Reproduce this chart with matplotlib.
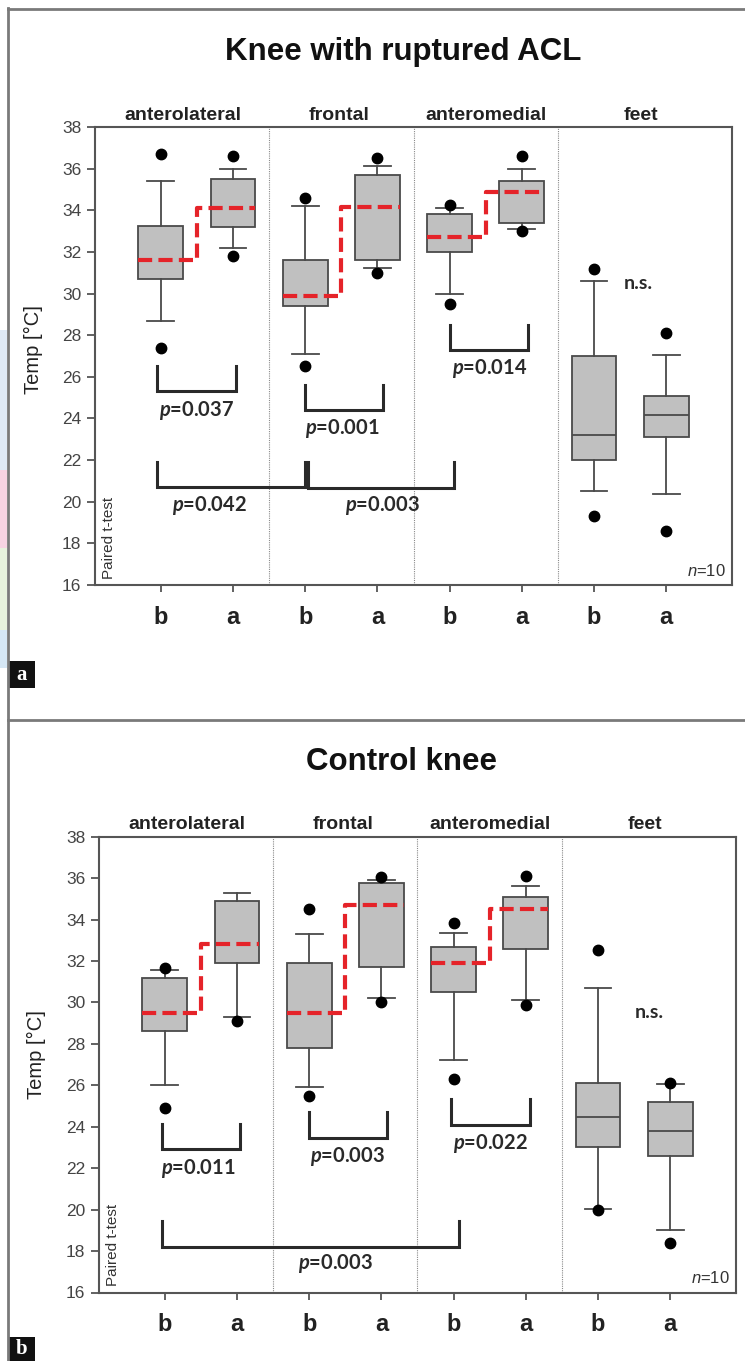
import matplotlib

matplotlib.use("Agg")
import matplotlib.pyplot as plt
from matplotlib.lines import Line2D
from matplotlib.patches import Rectangle
from matplotlib.transforms import blended_transform_factory

W, H = 745, 1361

plt.rcParams["font.family"] = ["Liberation Sans", "DejaVu Sans"]
plt.rcParams["mathtext.fontset"] = "custom"
plt.rcParams["mathtext.it"] = "Lato:italic:bold"
plt.rcParams["mathtext.rm"] = "Lato:bold"
plt.rcParams["mathtext.sf"] = "Liberation Sans:italic"

groups = ["anterolateral", "frontal", "anteromedial", "feet"]
group_x = [1.3, 3.47, 5.51, 7.65]
tick_labels = ["b", "a"] * 4
positions = [1, 2, 3, 4, 5, 6, 7, 8]
dividers = [2.5, 4.5, 6.5]
yticks = list(range(16, 39, 2))

# knee with ruptured ACL, b/a per region
acl_whislo = [28.7, 32.2, 27.1, 31.25, 30.0, 33.1, 20.5, 20.35]
acl_q1 = [30.7, 33.2, 29.4, 31.6, 32.0, 33.4, 22.0, 23.1]
acl_med = [31.6, 34.1, 29.9, 34.15, 32.7, 34.9, 23.2, 24.15]
acl_q3 = [33.25, 35.5, 31.6, 35.7, 33.8, 35.4, 27.0, 25.1]
acl_whishi = [35.4, 36.0, 34.2, 36.15, 34.1, 36.0, 30.6, 27.05]
acl_fliers = [[36.7, 27.4], [36.6, 31.8], [34.6, 26.5], [36.5, 31.0],
              [34.25, 29.5], [36.6, 33.0], [31.2, 19.3], [28.1, 18.6]]
# (x0, x1, top, bottom, label, label_x, label_y)
acl_brackets = [
    (0.95, 2.04, 26.5, 25.3, "0.037", 1.5, 24.4),
    (3.0, 4.08, 25.6, 24.4, "0.001", 3.51, 23.5),
    (5.0, 6.08, 28.5, 27.3, "0.014", 5.56, 26.4),
    (0.95, 3.0, 21.9, 20.7, "0.042", 1.67, 19.8),
    (3.04, 5.06, 21.9, 20.65, "0.003", 4.07, 19.8),
]
acl_ns = (7.61, 30.5)

# control knee
ctrl_whislo = [26.0, 29.3, 25.9, 30.2, 27.2, 30.1, 20.05, 19.0]
ctrl_q1 = [28.6, 31.9, 27.8, 31.7, 30.5, 32.6, 23.0, 22.6]
ctrl_med = [29.5, 32.8, 29.5, 34.7, 31.9, 34.5, 24.45, 23.8]
ctrl_q3 = [31.2, 34.9, 31.9, 35.75, 32.7, 35.1, 26.1, 25.2]
ctrl_whishi = [31.55, 35.3, 33.3, 35.9, 33.35, 35.6, 30.7, 26.05]
ctrl_fliers = [[31.65, 24.9], [29.1], [34.5, 25.5], [36.05, 30.0],
               [33.85, 26.3], [36.1, 29.9], [32.55, 20.0], [26.1, 18.4]]
ctrl_brackets = [
    (0.96, 2.04, 24.15, 22.95, "0.011", 1.46, 22.0),
    (3.0, 4.08, 24.7, 23.45, "0.003", 3.53, 22.55),
    (4.97, 6.06, 25.35, 24.1, "0.022", 5.51, 23.2),
    (0.96, 5.07, 19.45, 18.2, "0.003", 3.37, 17.4),
]
ctrl_ns = (7.71, 29.5)

EDGE = "#4a4a4a"
RED = "#e52329"


def fig_xy(x, y):
    return x / W, 1 - y / H


def draw_panel(ax, whislo, q1, med, q3, whishi, fliers, brackets, ns):
    stats = []
    for i in range(len(positions)):
        stats.append(dict(whislo=whislo[i], q1=q1[i], med=med[i], q3=q3[i],
                          whishi=whishi[i], fliers=fliers[i]))
    out = ax.bxp(
        stats, positions=positions, widths=0.62, capwidths=0.37,
        patch_artist=True, showfliers=True,
        boxprops=dict(facecolor="#c0c0c0", edgecolor=EDGE, linewidth=1.3),
        whiskerprops=dict(color=EDGE, linewidth=1.3),
        capprops=dict(color=EDGE, linewidth=1.3),
        medianprops=dict(color=EDGE, linewidth=1.3),
        flierprops=dict(marker="o", markerfacecolor="black",
                        markeredgecolor="black", markersize=7.5),
    )
    # knee regions: median shown as red dashed step b -> a
    for i in range(0, 6, 2):
        out["medians"][i].set_visible(False)
        out["medians"][i + 1].set_visible(False)
        pb, pa = positions[i], positions[i + 1]
        mid = (pb + pa) / 2
        ax.plot([pb - 0.31, mid, mid, pa + 0.31],
                [med[i], med[i], med[i + 1], med[i + 1]],
                color=RED, lw=3, dashes=(3.4, 1.5), zorder=5,
                solid_capstyle="butt", dash_capstyle="butt")

    for d in dividers:
        ax.axvline(d, color="#8a8a8a", lw=0.8, ls=(0, (1, 1)), zorder=0)

    for x0, x1, top, bot, lab, lx, ly in brackets:
        ax.plot([x0, x0, x1, x1], [top, bot, bot, top], color="#2a2a2a",
                lw=2.2, solid_joinstyle="miter", zorder=4)
        ax.text(lx, ly, r"$p$=" + lab, ha="center", va="center",
                fontsize=14.5, color="#2a2a2a", fontweight="bold",
                family="Lato")

    ax.text(ns[0], ns[1], "n.s.", ha="center", va="center", fontsize=14,
            color="#2a2a2a", fontweight="bold", family="Lato")

    ax.text(0.29, 16.3, "Paired t-test", rotation=90, ha="center",
            va="bottom", fontsize=11, color="#333333")
    ax.text(8.82, 16.3, r"$\mathsf{n}$=10", ha="right", va="bottom",
            fontsize=12, color="#333333")

    ax.set_xlim(0.09, 8.91)
    ax.set_ylim(16, 38)
    ax.set_yticks(yticks)
    ax.set_yticklabels([str(t) for t in yticks], fontsize=12.5,
                       color="#444444")
    ax.set_xticks(positions)
    ax.set_xticklabels(tick_labels, fontsize=17, fontweight="bold",
                       color="#222222")
    ax.tick_params(axis="y", direction="out", length=6, width=1.3,
                   color="#555555", pad=4)
    ax.tick_params(axis="x", direction="out", length=5, width=1.3,
                   color="#555555", pad=10)
    for sp in ax.spines.values():
        sp.set_color("#555555")
        sp.set_linewidth(1.5)

    trans = blended_transform_factory(ax.transData, ax.transAxes)
    for g, gx in zip(groups, group_x):
        ax.text(gx, 1.016, g, transform=trans, ha="center", va="baseline",
                fontsize=14, fontweight="bold", color="#222222")


fig = plt.figure(figsize=(W / 100, H / 100), dpi=100)

ax_top = fig.add_axes([95 / W, 1 - 585 / H, 637 / W, 458 / H])
draw_panel(ax_top, acl_whislo, acl_q1, acl_med, acl_q3, acl_whishi,
           acl_fliers, acl_brackets, acl_ns)

ax_bot = fig.add_axes([99 / W, 1 - 1292.5 / H, 637 / W, 455.8 / H])
draw_panel(ax_bot, ctrl_whislo, ctrl_q1, ctrl_med, ctrl_q3, ctrl_whishi,
           ctrl_fliers, ctrl_brackets, ctrl_ns)

# titles and y labels
fig.text(*fig_xy(403, 52), "Knee with ruptured ACL", ha="center",
         va="center", fontsize=22.5, fontweight="bold", color="#111111")
fig.text(*fig_xy(401, 762), "Control knee", ha="center", va="center",
         fontsize=22.5, fontweight="bold", color="#111111")
fig.text(*fig_xy(33, 350), "Temp [°C]", rotation=90, ha="center",
         va="center", fontsize=14.5, color="#222222")
fig.text(*fig_xy(36, 1055), "Temp [°C]", rotation=90, ha="center",
         va="center", fontsize=14.5, color="#222222")

# page frame
frame = dict(color="#7a7a7a", lw=2, transform=fig.transFigure)
fig.add_artist(Line2D([8 / W, 8 / W], [0, 1 - 8 / H], **frame))
fig.add_artist(Line2D([8 / W, 1], [1 - 9 / H, 1 - 9 / H], **frame))
fig.add_artist(Line2D([8 / W, 1], [1 - 720 / H, 1 - 720 / H], **frame))

# faint colour strips at the left edge of the scan
for y0, y1, c in [(330, 470, "#dfeaf6"), (470, 548, "#f7d3e2"),
                  (548, 630, "#e7f2dd"), (630, 668, "#d5e7f5")]:
    fig.add_artist(Rectangle((0, 1 - y1 / H), 7 / W, (y1 - y0) / H,
                             transform=fig.transFigure, color=c, lw=0))

# panel letters
for lab, y0, y1 in [("a", 661, 688), ("b", 1337, 1361)]:
    fig.add_artist(Rectangle((8 / W, 1 - y1 / H), 27 / W, (y1 - y0) / H,
                             transform=fig.transFigure, color="#111111",
                             lw=0))
    fig.text(21.5 / W, 1 - (y0 + y1) / 2 / H, lab, ha="center", va="center",
             fontsize=15, fontweight="bold", color="white",
             family="Liberation Serif")

fig.savefig("out.png", dpi=100)
